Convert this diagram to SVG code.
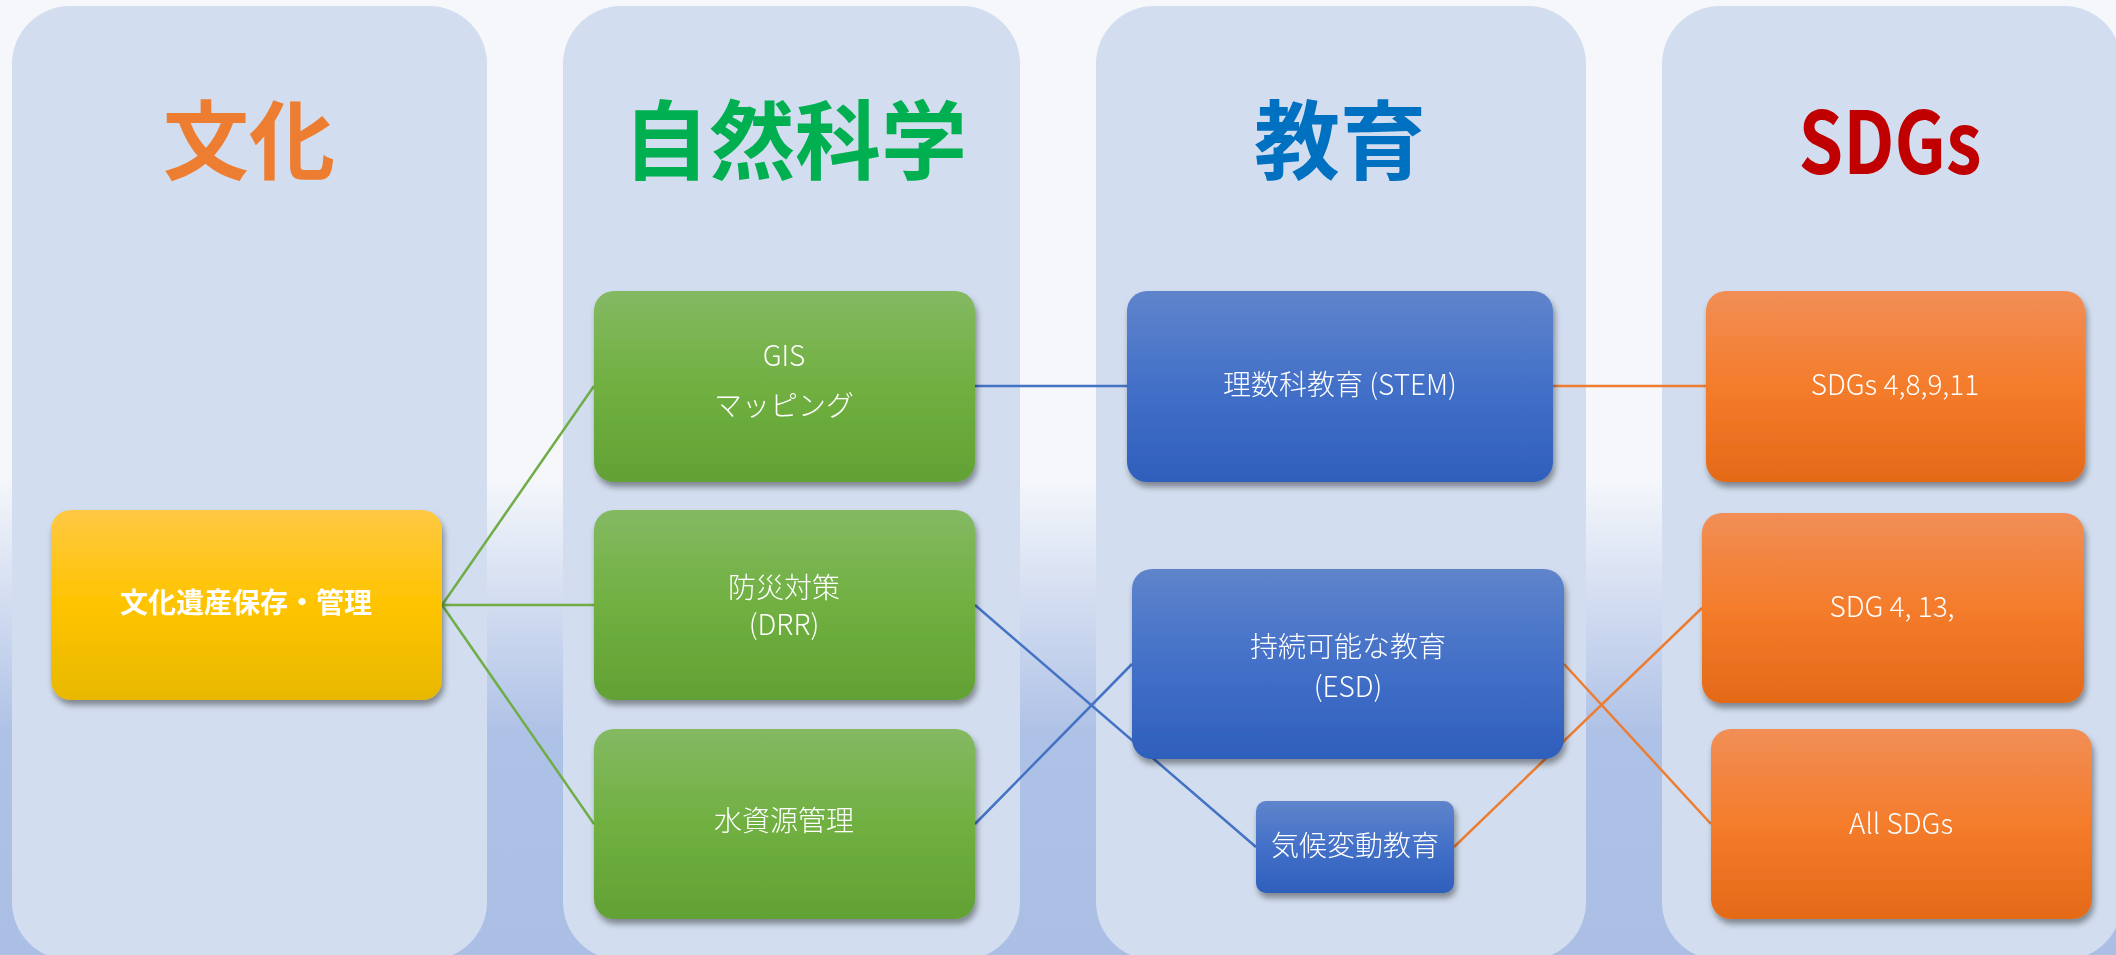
<svg xmlns="http://www.w3.org/2000/svg" width="2116" height="955" viewBox="0 0 2116 955">
<defs>
<linearGradient id="bg" x1="0" y1="0" x2="0" y2="1">
<stop offset="0" stop-color="#F5F7FB"/>
<stop offset="0.5" stop-color="#F5F7FB"/>
<stop offset="0.77" stop-color="#AEC1E6"/>
<stop offset="1" stop-color="#ABBFE5"/>
</linearGradient>
<linearGradient id="gGreen" x1="0" y1="0" x2="0" y2="1">
<stop offset="0" stop-color="#84B962"/>
<stop offset="0.5" stop-color="#70B041"/>
<stop offset="1" stop-color="#62A134"/>
</linearGradient>
<linearGradient id="gBlue" x1="0" y1="0" x2="0" y2="1">
<stop offset="0" stop-color="#5F84CB"/>
<stop offset="0.5" stop-color="#4370C8"/>
<stop offset="1" stop-color="#2E5FBB"/>
</linearGradient>
<linearGradient id="gOrange" x1="0" y1="0" x2="0" y2="1">
<stop offset="0" stop-color="#F18E56"/>
<stop offset="0.5" stop-color="#F47C2B"/>
<stop offset="1" stop-color="#E46A18"/>
</linearGradient>
<linearGradient id="gGold" x1="0" y1="0" x2="0" y2="1">
<stop offset="0" stop-color="#FFC843"/>
<stop offset="0.5" stop-color="#FFC400"/>
<stop offset="1" stop-color="#E7B800"/>
</linearGradient>
<filter id="sh" x="-10%" y="-10%" width="125%" height="130%">
<feDropShadow dx="2" dy="5" stdDeviation="3" flood-color="#000" flood-opacity="0.4"/>
</filter>
</defs>
<style>
.panel{fill:#D2DEEF}
.title{font-family:"Noto Sans CJK JP","Noto Sans",sans-serif;font-weight:bold;font-size:86px;text-anchor:middle}
.t{font-family:"Noto Sans CJK JP","Noto Sans",sans-serif;font-size:28px;font-weight:300;fill:#FFFFFF;text-anchor:middle}
.tb{font-family:"Noto Sans CJK JP","Noto Sans",sans-serif;font-size:28px;font-weight:bold;fill:#FFFFFF;text-anchor:middle}
.cg{stroke:#70AD47;stroke-width:2.5;fill:none}
.cb{stroke:#4472C4;stroke-width:2.5;fill:none}
.co{stroke:#ED7D31;stroke-width:2.5;fill:none}
.node{filter:url(#sh)}
</style>
<rect x="0" y="0" width="2116" height="955" fill="url(#bg)"/>
<g id="panels">
<rect class="panel" x="12" y="6" width="475" height="954" rx="58" ry="58"/>
<rect class="panel" x="563" y="6" width="457" height="954" rx="58" ry="58"/>
<rect class="panel" x="1096" y="6" width="490" height="954" rx="58" ry="58"/>
<rect class="panel" x="1662" y="6" width="460" height="954" rx="58" ry="58"/>
</g>
<g id="titles">
<text class="title" x="249" y="173" fill="#ED7D31">文化</text>
<text class="title" x="795" y="173" fill="#00B050">自然科学</text>
<text class="title" x="1340" y="173" fill="#0070C0">教育</text>
<text class="title" x="1890" y="174" fill="#C00000" font-size="86" textLength="183" lengthAdjust="spacingAndGlyphs">SDGs</text>
</g>
<g id="connectors">
<line class="cg" x1="442" y1="605" x2="594" y2="386"/>
<line class="cg" x1="442" y1="605" x2="594" y2="605"/>
<line class="cg" x1="442" y1="605" x2="594" y2="824"/>
<line class="cb" x1="975" y1="386" x2="1127" y2="386"/>
<line class="cb" x1="975" y1="605" x2="1256" y2="847"/>
<line class="cb" x1="975" y1="824" x2="1132" y2="664"/>
<line class="co" x1="1553" y1="386" x2="1706" y2="386"/>
<line class="co" x1="1564" y1="664" x2="1711" y2="824"/>
<line class="co" x1="1454" y1="847" x2="1702" y2="608"/>
</g>
<g id="n-heritage" class="node">
<rect x="51" y="510" width="391" height="190" rx="20" fill="url(#gGold)"/>
<text class="tb" x="246" y="613">文化遺産保存・管理</text>
</g>
<g id="n-gis" class="node">
<rect x="594" y="291" width="381" height="191" rx="20" fill="url(#gGreen)"/>
<text class="t" x="784" y="366">GIS</text>
<text class="t" x="784" y="416">マッピング</text>
</g>
<g id="n-drr" class="node">
<rect x="594" y="510" width="381" height="190" rx="20" fill="url(#gGreen)"/>
<text class="t" x="784" y="598">防災対策</text>
<text class="t" x="784" y="635">(DRR)</text>
</g>
<g id="n-water" class="node">
<rect x="594" y="729" width="381" height="190" rx="20" fill="url(#gGreen)"/>
<text class="t" x="784" y="831">水資源管理</text>
</g>
<g id="n-stem" class="node">
<rect x="1127" y="291" width="426" height="191" rx="20" fill="url(#gBlue)"/>
<text class="t" x="1340" y="395">理数科教育 (STEM)</text>
</g>
<g id="n-esd" class="node">
<rect x="1132" y="569" width="432" height="190" rx="20" fill="url(#gBlue)"/>
<text class="t" x="1348" y="657">持続可能な教育</text>
<text class="t" x="1348" y="697">(ESD)</text>
</g>
<g id="n-climate" class="node">
<rect x="1256" y="801" width="198" height="92" rx="10" fill="url(#gBlue)"/>
<text class="t" x="1355" y="856">気候変動教育</text>
</g>
<g id="n-sdg1" class="node">
<rect x="1706" y="291" width="379" height="191" rx="20" fill="url(#gOrange)"/>
<text class="t" x="1895" y="395">SDGs 4,8,9,11</text>
</g>
<g id="n-sdg2" class="node">
<rect x="1702" y="513" width="382" height="190" rx="20" fill="url(#gOrange)"/>
<text class="t" x="1892" y="617">SDG 4, 13,</text>
</g>
<g id="n-sdg3" class="node">
<rect x="1711" y="729" width="381" height="190" rx="20" fill="url(#gOrange)"/>
<text class="t" x="1901" y="834">All SDGs</text>
</g>
</svg>
